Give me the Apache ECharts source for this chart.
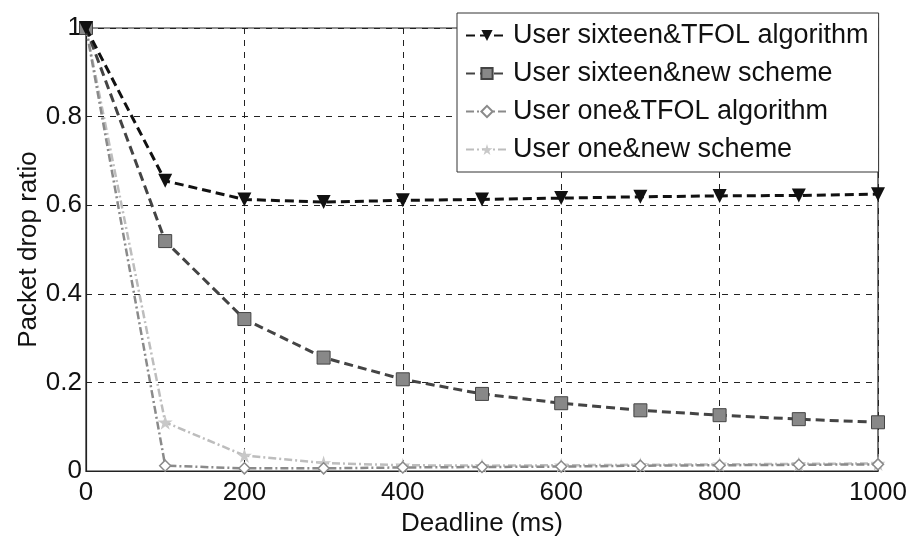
<!DOCTYPE html>
<html>
<head>
<meta charset="utf-8">
<script src="https://cdn.jsdelivr.net/npm/echarts@6/dist/echarts.min.js"></script>
<style>html,body{margin:0;padding:0;background:#fff}#c{width:918px;height:542px}</style>
</head>
<body>
<div id="c"></div>
<script>
const deadlines = [0, 100, 200, 300, 400, 500, 600, 700, 800, 900, 1000];
const sixteenTFOL = [1, 0.655, 0.613, 0.607, 0.611, 0.613, 0.616, 0.619, 0.621, 0.622, 0.625];
const sixteenNew = [1, 0.519, 0.343, 0.256, 0.207, 0.174, 0.153, 0.137, 0.126, 0.117, 0.110];
const oneTFOL = [1, 0.012, 0.006, 0.006, 0.008, 0.009, 0.010, 0.012, 0.013, 0.014, 0.015];
const oneNew = [1, 0.110, 0.035, 0.018, 0.013, 0.012, 0.013, 0.014, 0.015, 0.016, 0.017];
const seriesNames = ['User sixteen&TFOL algorithm', 'User sixteen&new scheme', 'User one&TFOL algorithm', 'User one&new scheme'];
const xTicks = [0, 200, 400, 600, 800, 1000];
const yTicks = [0, 0.2, 0.4, 0.6, 0.8, 1];

const FONT = 'Liberation Sans';
const pair = arr => deadlines.map((d, i) => [d, arr[i]]);
const starPath = 'path://M50,0 L61,35 L98,35 L68,57 L79,92 L50,70 L21,92 L32,57 L2,35 L39,35 Z';

const chart = echarts.init(document.getElementById('c'));
chart.setOption({
  animation: false,
  backgroundColor: '#fff',
  textStyle: { fontFamily: FONT },
  grid: { left: 86, right: 40, top: 28, bottom: 69, show: true, borderColor: '#222', borderWidth: 1.2 },
  legend: {
    orient: 'vertical', left: 457, top: 13,
    backgroundColor: '#fff', borderColor: '#333', borderWidth: 1,
    padding: [9, 10, 9, 8], itemGap: 11, itemWidth: 42, itemHeight: 14,
    textStyle: { fontFamily: FONT, fontSize: 27, color: '#111' },
    data: seriesNames
  },
  xAxis: {
    type: 'value', min: 0, max: 1000, interval: 200,
    name: 'Deadline (ms)', nameLocation: 'middle', nameGap: 40, nameMoveOverlap: false,
    nameTextStyle: { fontFamily: FONT, fontSize: 26, color: '#111' },
    axisLine: { show: true, lineStyle: { color: '#222', width: 1.2 } },
    axisTick: { inside: true, length: 6, lineStyle: { color: '#222' } },
    axisLabel: { fontFamily: FONT, fontSize: 26, color: '#111', margin: 9,
      formatter: v => String(xTicks.find(t => t === v) ?? v) },
    splitLine: { show: true, lineStyle: { color: '#222', type: [6, 6], width: 1 } }
  },
  yAxis: {
    type: 'value', min: 0, max: 1, interval: 0.2,
    name: 'Packet drop ratio', nameLocation: 'middle', nameGap: 44, nameMoveOverlap: false,
    nameTextStyle: { fontFamily: FONT, fontSize: 26, color: '#111' },
    axisLine: { show: true, lineStyle: { color: '#222', width: 1.2 } },
    axisTick: { inside: true, length: 6, lineStyle: { color: '#222' } },
    axisLabel: { fontFamily: FONT, fontSize: 26, color: '#111', margin: 4,
      formatter: v => (v === 0 ? '0' : v === 1 ? '1' : v.toFixed(1)) },
    splitLine: { show: true, lineStyle: { color: '#222', type: [6, 6], width: 1 } }
  },
  series: [
    { name: seriesNames[0], type: 'line', data: pair(sixteenTFOL), z: 5,
      symbol: 'triangle', symbolRotate: 180, symbolSize: 14,
      lineStyle: { color: '#111', width: 3, type: [9, 5] },
      itemStyle: { color: '#111' } },
    { name: seriesNames[1], type: 'line', data: pair(sixteenNew), z: 4,
      symbol: 'rect', symbolSize: 13,
      lineStyle: { color: '#444', width: 3, type: [9, 5] },
      itemStyle: { color: '#888', borderColor: '#444', borderWidth: 1 } },
    { name: seriesNames[2], type: 'line', data: pair(oneTFOL), z: 3,
      symbol: 'diamond', symbolSize: 11,
      lineStyle: { color: '#8a8a8a', width: 2.5, type: [8, 3, 2, 3] },
      itemStyle: { color: '#fff', borderColor: '#8a8a8a', borderWidth: 1.5 } },
    { name: seriesNames[3], type: 'line', data: pair(oneNew), z: 2,
      symbol: starPath, symbolSize: 15,
      lineStyle: { color: '#bdbdbd', width: 2.5, type: [8, 3, 2, 3] },
      itemStyle: { color: '#c8c8c8' } }
  ]
});
</script>
</body>
</html>
